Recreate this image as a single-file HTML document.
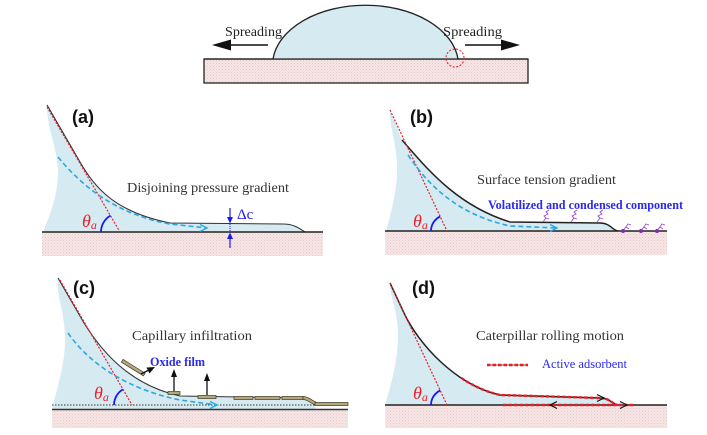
<!DOCTYPE html>
<html>
<head>
<meta charset="utf-8">
<style>
  html,body{margin:0;padding:0;background:#fff;}
  svg{display:block;}
  .serif{font-family:"Liberation Serif","DejaVu Serif",serif;}
  .sans{font-family:"Liberation Sans","DejaVu Sans",sans-serif;}
</style>
</head>
<body>
<svg width="707" height="435" viewBox="0 0 707 435" xmlns="http://www.w3.org/2000/svg">
  <defs>
    <pattern id="pk" width="3" height="3" patternUnits="userSpaceOnUse">
      <rect width="3" height="3" fill="#f7e6e6"/>
      <rect x="0" y="0" width="1" height="1" fill="#e8c6c6"/>
      <rect x="1.5" y="1.5" width="1" height="1" fill="#ecd0d0"/>
    </pattern>
    <clipPath id="clipd"><rect x="462" y="300" width="200" height="110"/></clipPath>
  </defs>

  <!-- ============ TOP DIAGRAM ============ -->
  <rect x="204" y="59" width="324" height="24" fill="url(#pk)" stroke="#222" stroke-width="1.3"/>
  <path d="M273,59 A93,60 0 0 1 458,59 Z" fill="#d6ebf1"/>
  <path d="M273,59 A93,60 0 0 1 458,59" fill="none" stroke="#222" stroke-width="1.3"/>
  <line x1="204" y1="59" x2="528" y2="59" stroke="#222" stroke-width="1.3"/>
  <circle cx="455" cy="58" r="9" fill="none" stroke="#e8262e" stroke-width="1.1" stroke-dasharray="2,1.6"/>
  <line x1="229" y1="45" x2="268" y2="45" stroke="#111" stroke-width="1.5"/>
  <polygon points="212,45 231,39.5 231,50.5" fill="#111"/>
  <line x1="465" y1="45" x2="503" y2="45" stroke="#111" stroke-width="1.5"/>
  <polygon points="520,45 501,39.5 501,50.5" fill="#111"/>
  <text class="serif" x="225" y="36" font-size="14" fill="#222" textLength="57" lengthAdjust="spacingAndGlyphs">Spreading</text>
  <text class="serif" x="443" y="36" font-size="14" fill="#222" textLength="59" lengthAdjust="spacingAndGlyphs">Spreading</text>

  <!-- ============ PANEL (a) ============ -->
  <rect x="42" y="232" width="281" height="24" fill="url(#pk)"/>
  <path d="M47,105 L80,162 C95,188 115,212 170,223 L283,224 C295,224 300,229 305,232 L43,232 C50,215 58,195 58,172 C58,150 46,125 47,105 Z" fill="#d6ebf1"/>
  <path d="M47,105 L80,162 C95,188 115,212 170,223 L283,224 C295,224 300,229 305,232" fill="none" stroke="#333" stroke-width="1.1"/>
  <line x1="42" y1="232" x2="323" y2="232" stroke="#222" stroke-width="1.6"/>
  <line x1="47" y1="107" x2="120" y2="232" stroke="#e8202a" stroke-width="1.2" stroke-dasharray="2,1.5"/>
  <path d="M58,157 C85,190 120,215 170,224 L207,228" fill="none" stroke="#2ea6e0" stroke-width="1.6" stroke-dasharray="5,3"/>
  <polyline points="200,224.5 207,228 200,231.5" fill="none" stroke="#2ea6e0" stroke-width="1.4"/>
  <path d="M101,232 A19,19 0 0 1 110.4,215.6" fill="none" stroke="#1a1aee" stroke-width="1.8"/>
  <text class="serif" x="82" y="227" font-size="18" font-style="italic" fill="#e8202a">θ<tspan font-size="12" dy="2">a</tspan></text>
  <line x1="230" y1="208" x2="230" y2="218" stroke="#1a1aee" stroke-width="1.2"/>
  <polygon points="230,223.5 227,217 233,217" fill="#1a1aee"/>
  <line x1="230" y1="224" x2="230" y2="232" stroke="#1a1aee" stroke-width="1" stroke-dasharray="1,1"/>
  <line x1="230" y1="239" x2="230" y2="248" stroke="#1a1aee" stroke-width="1.2"/>
  <polygon points="230,232.5 227,239 233,239" fill="#1a1aee"/>
  <text class="serif" x="237" y="219" font-size="15" fill="#1a1aee">Δc</text>
  <text class="serif" x="127" y="192" font-size="14" fill="#333" textLength="162" lengthAdjust="spacingAndGlyphs">Disjoining pressure gradient</text>
  <text class="sans" x="72" y="123" font-size="18" font-weight="bold" fill="#111">(a)</text>

  <!-- ============ PANEL (b) ============ -->
  <rect x="385" y="231" width="282" height="24" fill="url(#pk)"/>
  <path d="M390,110 L402,140 C425,166 455,205 510,222 L600,223 C610,223 612,230 618,231 L386,231 C392,210 398,185 397,165 C396,140 389,125 390,110 Z" fill="#d6ebf1"/>
  <path d="M402,140 C425,166 455,205 510,222 L600,223 C610,223 612,230 618,231" fill="none" stroke="#222" stroke-width="1.5"/>
  <line x1="385" y1="231" x2="667" y2="231" stroke="#222" stroke-width="1.6"/>
  <line x1="390" y1="110" x2="447" y2="231" stroke="#e8202a" stroke-width="1.2" stroke-dasharray="2,1.5"/>
  <path d="M408,155 C430,188 460,215 510,226 L557,228" fill="none" stroke="#2ea6e0" stroke-width="1.6" stroke-dasharray="5,3"/>
  <polyline points="550,224.5 557,228 550,231.5" fill="none" stroke="#2ea6e0" stroke-width="1.4"/>
  <path d="M431,231 A16,16 0 0 1 440.2,216.5" fill="none" stroke="#1a1aee" stroke-width="1.8"/>
  <text class="serif" x="413" y="227" font-size="18" font-style="italic" fill="#e8202a">θ<tspan font-size="12" dy="2">a</tspan></text>
  <text class="serif" x="477" y="184" font-size="14" fill="#333" textLength="139" lengthAdjust="spacingAndGlyphs">Surface tension gradient</text>
  <text class="serif" x="488" y="209" font-size="12.5" font-weight="bold" fill="#2a2aee" textLength="195" lengthAdjust="spacingAndGlyphs">Volatilized and condensed component</text>
  <g fill="none" stroke="#9a4fc0" stroke-width="0.9">
    <path d="M543,222 L546,218 L544,216 L548,214 L546,212 L549,210"/>
    <path d="M546,218 L549,219"/>
    <path d="M571,222 L574,218 L572,216 L576,214 L574,212 L577,210"/>
    <path d="M574,218 L577,219"/>
    <path d="M597,222 L600,218 L598,216 L602,214 L600,212 L603,210"/>
    <path d="M600,218 L603,219"/>
    <path d="M623,231 L628,224 L631,225"/><path d="M626,227 L629,229"/>
    <path d="M641,231 L646,224 L649,225"/><path d="M644,227 L647,229"/>
    <path d="M657,231 L662,224 L665,225"/><path d="M660,227 L663,229"/>
  </g>
  <g fill="#7a2fb0">
    <circle cx="623" cy="231" r="2"/>
    <circle cx="641" cy="231" r="2"/>
    <circle cx="657" cy="231" r="2"/>
  </g>
  <text class="sans" x="410" y="123" font-size="18" font-weight="bold" fill="#111">(b)</text>

  <!-- ============ PANEL (c) ============ -->
  <rect x="52" y="410" width="296" height="18" fill="url(#pk)"/>
  <path d="M58,278 L84,323 C102,352 130,385 180,396 L300,398 C308,398 310,403 315,404 L315,409 L52,409 C58,385 66,360 65,335 C64,310 56,295 58,278 Z" fill="#d6ebf1"/>
  <path d="M58,278 L84,323 C102,352 130,385 180,396 L300,398 C308,398 310,403 315,404" fill="none" stroke="#333" stroke-width="1.1"/>
  <line x1="52" y1="405" x2="315" y2="405" stroke="#333" stroke-width="1" stroke-dasharray="1.5,1.5"/>
  <line x1="52" y1="409.5" x2="348" y2="409.5" stroke="#333" stroke-width="1.4"/>
  <line x1="60" y1="280" x2="132" y2="405" stroke="#e8202a" stroke-width="1.2" stroke-dasharray="2,1.5"/>
  <path d="M68,333 C90,365 130,390 180,400 L217,405" fill="none" stroke="#2ea6e0" stroke-width="1.6" stroke-dasharray="5,3"/>
  <polyline points="210,401.5 217,405 210,408.5" fill="none" stroke="#2ea6e0" stroke-width="1.4"/>
  <path d="M114,405 A18,18 0 0 1 123,389.4" fill="none" stroke="#1a1aee" stroke-width="1.8"/>
  <text class="serif" x="94" y="399" font-size="18" font-style="italic" fill="#e8202a">θ<tspan font-size="12" dy="2">a</tspan></text>
  <g fill="#b7a878" stroke="#3a3a2a" stroke-width="0.7">
    <rect x="120" y="366" width="26" height="3.2" transform="rotate(32 133 368)"/>
    <rect x="168" y="391.5" width="12" height="3"/>
    <rect x="198" y="395.5" width="18" height="3"/>
    <rect x="234" y="396.5" width="19" height="3"/>
    <rect x="255" y="396.5" width="25" height="3"/>
    <rect x="282" y="396.5" width="21" height="3"/>
    <path d="M303,396.5 C309,396.5 312,401 316,402 L316,405 C311,404 308,399.5 303,399.5 Z"/>
    <rect x="315" y="402.5" width="33" height="3"/>
  </g>
  <line x1="141" y1="374" x2="149" y2="370" stroke="#111" stroke-width="1.3"/>
  <polygon points="155,367 146.5,367.5 149.5,373.5" fill="#111"/>
  <line x1="174" y1="391" x2="174" y2="376" stroke="#111" stroke-width="1.3"/>
  <polygon points="174,369 171,377 177,377" fill="#111"/>
  <line x1="207" y1="395" x2="207" y2="380" stroke="#111" stroke-width="1.3"/>
  <polygon points="207,373 204,381 210,381" fill="#111"/>
  <text class="serif" x="132" y="340" font-size="14" fill="#333" textLength="120" lengthAdjust="spacingAndGlyphs">Capillary infiltration</text>
  <text class="serif" x="150" y="366" font-size="12.5" font-weight="bold" fill="#2a2aee" textLength="55" lengthAdjust="spacingAndGlyphs">Oxide film</text>
  <text class="sans" x="73" y="294" font-size="18" font-weight="bold" fill="#111">(c)</text>

  <!-- ============ PANEL (d) ============ -->
  <rect x="385" y="405" width="282" height="23" fill="url(#pk)"/>
  <path d="M390,283 L404,313 C418,343 455,385 500,395 L600,398 C610,398 612,404 618,405 L385,405 C391,385 398,360 398,335 C398,310 389,295 390,283 Z" fill="#d6ebf1"/>
  <path d="M390,283 L404,313 C418,343 455,385 500,395 L600,398 C610,398 612,404 618,405" fill="none" stroke="#222" stroke-width="1.5"/>
  <line x1="385" y1="405" x2="667" y2="405" stroke="#222" stroke-width="1.6"/>
  <path clip-path="url(#clipd)" d="M390,283 L404,313 C418,343 455,385 500,395 L600,398 C610,398 612,404 618,405" fill="none" stroke="#ee1c24" stroke-width="2.4" stroke-dasharray="3.5,2"/>
  <line x1="503" y1="405" x2="635" y2="405" stroke="#ee1c24" stroke-width="2.4" stroke-dasharray="3.5,2"/>
  <polyline points="597,394.5 604,398 597,401.5" fill="none" stroke="#111" stroke-width="1.2"/>
  <polyline points="557,401.5 550,405 557,408.5" fill="none" stroke="#111" stroke-width="1.2"/>
  <polyline points="620,401.5 627,405 620,408.5" fill="none" stroke="#111" stroke-width="1.2"/>
  <line x1="390" y1="283" x2="447" y2="405" stroke="#e8202a" stroke-width="1.2" stroke-dasharray="2,1.5"/>
  <path d="M431,405 A16,16 0 0 1 440.2,390.5" fill="none" stroke="#1a1aee" stroke-width="1.8"/>
  <text class="serif" x="413" y="399" font-size="18" font-style="italic" fill="#e8202a">θ<tspan font-size="12" dy="2">a</tspan></text>
  <text class="serif" x="476" y="340" font-size="14" fill="#333" textLength="148" lengthAdjust="spacingAndGlyphs">Caterpillar rolling motion</text>
  <line x1="487" y1="365" x2="528" y2="365" stroke="#333" stroke-width="0.8"/>
  <line x1="487" y1="365" x2="528" y2="365" stroke="#ee1c24" stroke-width="2.4" stroke-dasharray="3.5,2"/>
  <text class="serif" x="542" y="368" font-size="12.5" fill="#2a2aee" textLength="85" lengthAdjust="spacingAndGlyphs">Active adsorbent</text>
  <text class="sans" x="412" y="294" font-size="18" font-weight="bold" fill="#111">(d)</text>
</svg>
</body>
</html>
